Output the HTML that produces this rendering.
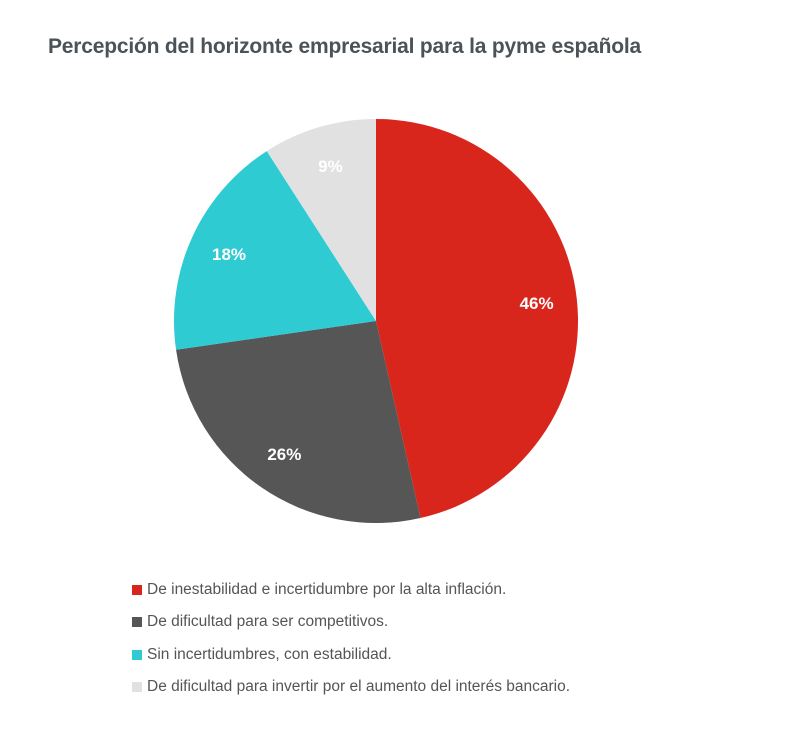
<!DOCTYPE html>
<html><head><meta charset="utf-8"><style>
body{margin:0;background:#fff;width:795px;height:751px;overflow:hidden;font-family:"Liberation Sans",sans-serif}
#title{position:absolute;left:48px;top:35px;font-size:21px;color:#4b5358;font-weight:bold;letter-spacing:-0.2px}
.leg{position:absolute;left:132px;font-size:15.5px;color:#555;display:flex;align-items:center}
.sw{width:10px;height:10px;margin-right:5px}
</style></head><body>
<div id="title">Percepción del horizonte empresarial para la pyme española</div>
<svg id="chart" width="795" height="751" style="position:absolute;left:0;top:0"></svg>
<div id="legend"></div>
<script>
const categories=["De inestabilidad e incertidumbre por la alta inflación.","De dificultad para ser competitivos.","Sin incertidumbres, con estabilidad.","De dificultad para invertir por el aumento del interés bancario."];
const values=[46,26,18,9];
const labels=["46%","26%","18%","9%"];
const colors=["#d9261c","#565656","#2ecbd3","#e1e1e1"];
const cx=376,cy=321,r=202;
const svg=document.getElementById('chart');
const NS="http://www.w3.org/2000/svg";
const total=values.reduce((a,b)=>a+b,0);
function pt(a,rr){return [cx+rr*Math.sin(a),cy-rr*Math.cos(a)];}
let a0=0;
values.forEach((v,i)=>{
  const a1=a0+v/total*2*Math.PI;
  const p0=pt(a0,r),p1=pt(a1,r);
  const path=document.createElementNS(NS,'path');
  path.setAttribute('d',`M${cx},${cy}L${p0[0]},${p0[1]}A${r},${r} 0 ${a1-a0>Math.PI?1:0} 1 ${p1[0]},${p1[1]}Z`);
  path.setAttribute('fill',colors[i]);
  
  
  svg.appendChild(path);
  const m=(a0+a1)/2,lp=pt(m,r*0.8);
  const t=document.createElementNS(NS,'text');
  t.setAttribute('x',lp[0]);t.setAttribute('y',lp[1]+6);
  t.setAttribute('text-anchor','middle');t.setAttribute('fill','#fff');
  t.setAttribute('font-size','17');t.setAttribute('font-weight','bold');
  t.setAttribute('font-family','Liberation Sans, sans-serif');
  
  
  t.textContent=labels[i];
  svg.appendChild(t);
  a0=a1;
});
const lg=document.getElementById('legend');
categories.forEach((c,i)=>{
  const d=document.createElement('div');
  d.className='leg';d.style.top=(581+i*32.3)+'px';
  
  
  d.innerHTML='<span class="sw" style="background:'+colors[i]+'"></span>'+c;
  lg.appendChild(d);
});
</script>
</body></html>
